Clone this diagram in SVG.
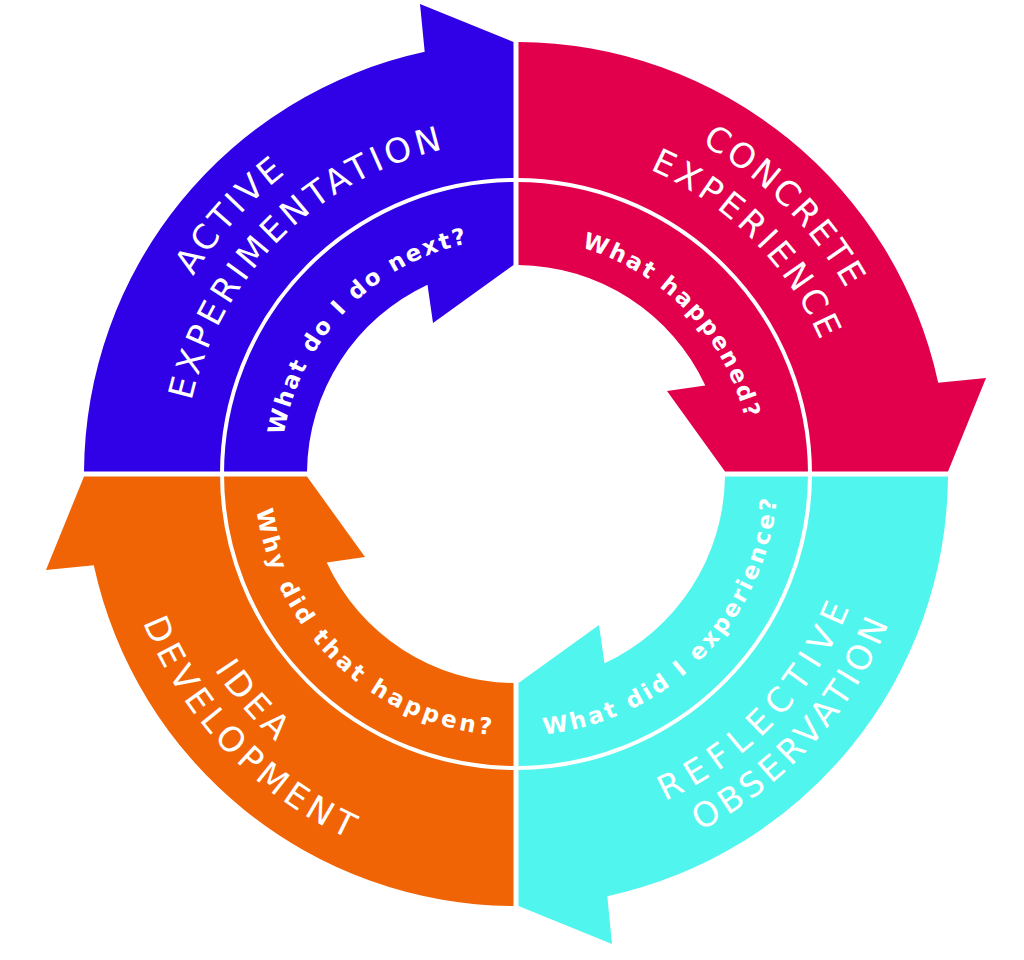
<svg xmlns="http://www.w3.org/2000/svg" xmlns:xlink="http://www.w3.org/1999/xlink" width="1024" height="960" viewBox="0 0 1024 960">
  <style>
    .outer { font-family: "DejaVu Sans", Lato, "Liberation Sans", sans-serif; font-weight: 400; font-size: 34px; fill: #ffffff; }
    .inner { font-family: "DejaVu Sans", Lato, "Liberation Sans", sans-serif; font-weight: 700; font-size: 23px; fill: #ffffff; }
    .divider { fill: none; stroke: #ffffff; stroke-width: 4; }
  </style>
  <defs>
    <path id="quad" d="M -432,-2.5 A 432 432 0 0 1 -91.3,-422.2 L -96,-470 L -2.5,-432 L -2.5,-209 L -83,-151 L -88.5,-189.3 A 209 209 0 0 0 -209,-2.5 Z"/>
    <path id="p-active" d="M141.1,526.7 A378.6,378.6 0 0 1 529.2,95.6"/>
    <path id="p-experimentation" d="M184.7,503 A332.6,332.6 0 0 1 545,142.7"/>
    <path id="p-concrete" d="M483,96.8 A378.6,378.6 0 0 1 893.2,507"/>
    <path id="p-experience" d="M487,142.7 A332.6,332.6 0 0 1 847.3,503"/>
    <path id="p-reflective" d="M492.9,832.6 A359.4,359.4 0 0 0 873.2,434.6"/>
    <path id="p-observation" d="M499.8,875.1 A401.4,401.4 0 0 0 913.8,420.2"/>
    <path id="p-idea" d="M161.5,414.7 A359.4,359.4 0 0 0 519.1,833.4"/>
    <path id="p-development" d="M117.2,428.6 A401.4,401.4 0 0 0 540.5,874.6"/>
    <path id="p-next" d="M281.8,499.8 A235.6,235.6 0 0 1 531.2,238.9"/>
    <path id="p-happened" d="M500.4,238.9 A235.6,235.6 0 0 1 750.2,499.4"/>
    <path id="p-experience-q" d="M494.5,735.1 A262,262 0 0 0 776.9,449.8"/>
    <path id="p-why" d="M254.6,456.6 A262,262 0 0 0 544.3,734.5"/>
  </defs>
  <rect width="1024" height="960" fill="#ffffff"/>

  <g id="active-experimentation">
    <use href="#quad" xlink:href="#quad" transform="translate(516 474)" fill="#3000e6"/>
    <text class="outer"><textPath href="#p-active" xlink:href="#p-active" startOffset="50%" text-anchor="middle" textLength="139" lengthAdjust="spacing">ACTIVE</textPath></text>
    <text class="outer"><textPath href="#p-experimentation" xlink:href="#p-experimentation" startOffset="50%" text-anchor="middle" textLength="375" lengthAdjust="spacing">EXPERIMENTATION</textPath></text>
    <text class="inner"><textPath href="#p-next" xlink:href="#p-next" startOffset="50%" text-anchor="middle" textLength="282" lengthAdjust="spacing">What do I do next?</textPath></text>
  </g>

  <g id="concrete-experience">
    <use href="#quad" xlink:href="#quad" transform="translate(516 474) rotate(90)" fill="#e2004c"/>
    <text class="outer"><textPath href="#p-concrete" xlink:href="#p-concrete" startOffset="50%" text-anchor="middle" textLength="207" lengthAdjust="spacing">CONCRETE</textPath></text>
    <text class="outer"><textPath href="#p-experience" xlink:href="#p-experience" startOffset="50%" text-anchor="middle" textLength="247" lengthAdjust="spacing">EXPERIENCE</textPath></text>
    <text class="inner"><textPath href="#p-happened" xlink:href="#p-happened" startOffset="50%" text-anchor="middle" textLength="247" lengthAdjust="spacing">What happened?</textPath></text>
  </g>

  <g id="reflective-observation">
    <use href="#quad" xlink:href="#quad" transform="translate(516 474) rotate(180)" fill="#50f5ee"/>
    <text class="outer"><textPath href="#p-reflective" xlink:href="#p-reflective" startOffset="50%" text-anchor="middle" textLength="274" lengthAdjust="spacing">REFLECTIVE</textPath></text>
    <text class="outer"><textPath href="#p-observation" xlink:href="#p-observation" startOffset="50%" text-anchor="middle" textLength="286" lengthAdjust="spacing">OBSERVATION</textPath></text>
    <text class="inner"><textPath href="#p-experience-q" xlink:href="#p-experience-q" startOffset="50%" text-anchor="middle" textLength="358" lengthAdjust="spacing">What did I experience?</textPath></text>
  </g>

  <g id="idea-development">
    <use href="#quad" xlink:href="#quad" transform="translate(516 474) rotate(270)" fill="#f06405"/>
    <text class="outer"><textPath href="#p-idea" xlink:href="#p-idea" startOffset="50%" text-anchor="middle" textLength="95" lengthAdjust="spacing">IDEA</textPath></text>
    <text class="outer"><textPath href="#p-development" xlink:href="#p-development" startOffset="50%" text-anchor="middle" textLength="306" lengthAdjust="spacing">DEVELOPMENT</textPath></text>
    <text class="inner"><textPath href="#p-why" xlink:href="#p-why" startOffset="50%" text-anchor="middle" textLength="350" lengthAdjust="spacing">Why did that happen?</textPath></text>
  </g>

  <g id="dividers">
    <circle class="divider" cx="516" cy="474" r="294"/>
  </g>
</svg>
